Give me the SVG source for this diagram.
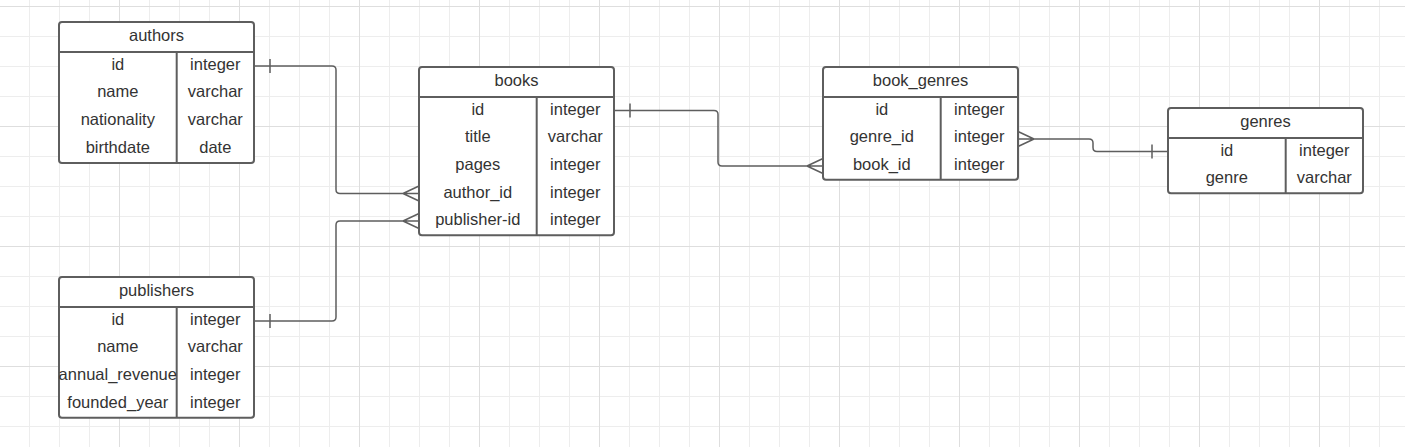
<svg xmlns="http://www.w3.org/2000/svg" width="1405" height="447" viewBox="0 0 1405 447">
<style>
.tbl{fill:#ffffff;stroke:#5e5e5e;stroke-width:2}
.div{stroke:#5e5e5e;stroke-width:2;fill:none}
.t{font-family:"Liberation Sans",Arial,sans-serif;font-size:16.5px;fill:#333333;text-anchor:middle}
.conn{fill:none;stroke:#5e5e5e;stroke-width:1.5}
</style>
<defs>
<pattern id="g1" patternUnits="userSpaceOnUse" x="0" y="0" width="30" height="30">
<path d="M29.5,0V30M0,6.5H30" stroke="#ededed" stroke-width="1" fill="none"/>
</pattern>
<pattern id="g2" patternUnits="userSpaceOnUse" x="0" y="0" width="120" height="120">
<path d="M119.5,0V120M0,6.5H120" stroke="#dedede" stroke-width="1" fill="none"/>
</pattern>
</defs>
<rect width="1405" height="447" fill="#ffffff"/>
<rect width="1405" height="447" fill="url(#g1)"/>
<rect width="1405" height="447" fill="url(#g2)"/>

<g id="connectors">
<path class="conn" d="M254,66H332Q336,66 336,70V189.5Q336,193.5 340,193.5H419M403,193.5L419,186M403,193.5L419,201M270,59V73"/>
<path class="conn" d="M254,321H332Q336,321 336,317V225Q336,221 340,221H419M403,221L419,213.5M403,221L419,228.5M270,314V328"/>
<path class="conn" d="M614,110.5H714Q718,110.5 718,114.5V162Q718,166 722,166H823M807,166L823,158.5M807,166L823,173.5M630,103.5V117.5"/>
<path class="conn" d="M1018,139H1089Q1093,139 1093,143V147.5Q1093,151.5 1097,151.5H1168M1034,139L1018,131.5M1034,139L1018,146.5M1152,144.5V158.5"/>
</g>

<g id="authors">
<rect class="tbl" x="59" y="22" width="195" height="141" rx="3"/>
<path class="div" d="M59,52H254M176.7,52V163"/>
<text class="t" x="156.5" y="41">authors</text>
<text class="t" x="117.8" y="69.5">id</text>
<text class="t" x="215.3" y="69.5">integer</text>
<text class="t" x="117.8" y="97.2">name</text>
<text class="t" x="215.3" y="97.2">varchar</text>
<text class="t" x="117.8" y="124.8">nationality</text>
<text class="t" x="215.3" y="124.8">varchar</text>
<text class="t" x="117.8" y="152.5">birthdate</text>
<text class="t" x="215.3" y="152.5">date</text>
</g>

<g id="publishers">
<rect class="tbl" x="59" y="277" width="195" height="140.7" rx="3"/>
<path class="div" d="M59,307H254M176.7,307V417.7"/>
<text class="t" x="156.5" y="296">publishers</text>
<text class="t" x="117.8" y="324.5">id</text>
<text class="t" x="215.3" y="324.5">integer</text>
<text class="t" x="117.8" y="352.2">name</text>
<text class="t" x="215.3" y="352.2">varchar</text>
<text class="t" x="117.8" y="379.8">annual_revenue</text>
<text class="t" x="215.3" y="379.8">integer</text>
<text class="t" x="117.8" y="407.5">founded_year</text>
<text class="t" x="215.3" y="407.5">integer</text>
</g>

<g id="books">
<rect class="tbl" x="419" y="67" width="195" height="168.3" rx="3"/>
<path class="div" d="M419,97H614M536.7,97V235.3"/>
<text class="t" x="516.5" y="86">books</text>
<text class="t" x="477.8" y="114.5">id</text>
<text class="t" x="575.3" y="114.5">integer</text>
<text class="t" x="477.8" y="142.2">title</text>
<text class="t" x="575.3" y="142.2">varchar</text>
<text class="t" x="477.8" y="169.8">pages</text>
<text class="t" x="575.3" y="169.8">integer</text>
<text class="t" x="477.8" y="197.5">author_id</text>
<text class="t" x="575.3" y="197.5">integer</text>
<text class="t" x="477.8" y="225.2">publisher-id</text>
<text class="t" x="575.3" y="225.2">integer</text>
</g>

<g id="book_genres">
<rect class="tbl" x="823" y="67" width="195" height="112.7" rx="3"/>
<path class="div" d="M823,97H1018M940.7,97V179.7"/>
<text class="t" x="920.5" y="86">book_genres</text>
<text class="t" x="881.8" y="114.5">id</text>
<text class="t" x="979.3" y="114.5">integer</text>
<text class="t" x="881.8" y="142.2">genre_id</text>
<text class="t" x="979.3" y="142.2">integer</text>
<text class="t" x="881.8" y="169.8">book_id</text>
<text class="t" x="979.3" y="169.8">integer</text>
</g>

<g id="genres">
<rect class="tbl" x="1168" y="108" width="195" height="85.3" rx="3"/>
<path class="div" d="M1168,138H1363M1285.7,138V193.3"/>
<text class="t" x="1265.5" y="127">genres</text>
<text class="t" x="1226.8" y="155.5">id</text>
<text class="t" x="1324.3" y="155.5">integer</text>
<text class="t" x="1226.8" y="183.2">genre</text>
<text class="t" x="1324.3" y="183.2">varchar</text>
</g>
</svg>
